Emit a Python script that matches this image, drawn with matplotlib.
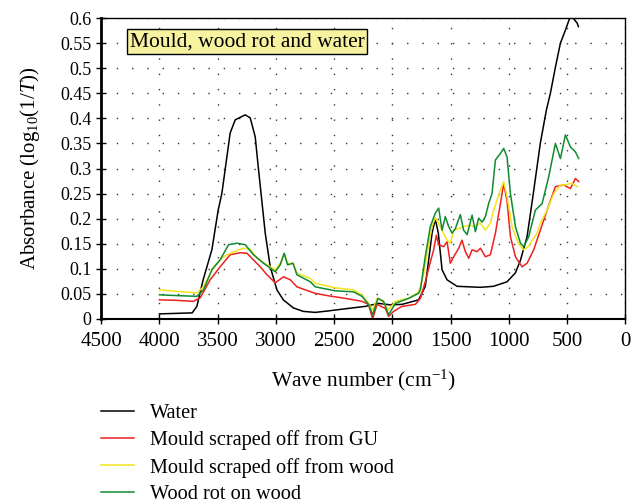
import numpy as np
import matplotlib
matplotlib.use("Agg")
import matplotlib.pyplot as plt

plt.rcParams['font.family'] = ['Liberation Serif', 'DejaVu Serif']
plt.rcParams['mathtext.fontset'] = 'custom'
plt.rcParams['mathtext.rm'] = 'Liberation Serif'
plt.rcParams['mathtext.it'] = 'Liberation Serif:italic'

# water
wn_water = [4000, 3718, 3678, 3624, 3549, 3495, 3463, 3392, 3349, 3263, 3220, 3177, 3151, 3091, 3048,
            2991, 2936, 2850, 2765, 2662, 2547, 2375, 2232, 2118, 2017, 1917, 1774, 1717, 1691, 1659,
            1631, 1605, 1573, 1530, 1444, 1244, 1132, 1015, 943, 900, 843, 789, 729, 677, 643,
            600, 557, 514, 488, 471, 445, 413, 402]
abs_water = [0.010, 0.012, 0.025, 0.078, 0.138, 0.217, 0.251, 0.371, 0.397, 0.407, 0.401, 0.363, 0.303, 0.171, 0.104,
             0.058, 0.038, 0.022, 0.015, 0.013, 0.016, 0.021, 0.025, 0.031, 0.028, 0.029, 0.038, 0.065, 0.112, 0.171,
             0.199, 0.171, 0.098, 0.078, 0.065, 0.063, 0.065, 0.074, 0.092, 0.117, 0.164, 0.251, 0.351, 0.417, 0.450,
             0.502, 0.550, 0.576, 0.593, 0.603, 0.599, 0.590, 0.583]

# mould scraped off from GU
wn_gu = [4000, 3850, 3710, 3649, 3564, 3478, 3392, 3306, 3248, 3194, 3134, 3076, 3005, 2934, 2876,
         2819, 2748, 2662, 2547, 2404, 2260, 2204, 2169, 2131, 2060, 2032, 1989, 1917, 1802, 1759,
         1717, 1688, 1645, 1622, 1602, 1559, 1530, 1502, 1473, 1430, 1402, 1373, 1344, 1315, 1273,
         1244, 1201, 1158, 1115, 1072, 1044, 1015, 986, 943, 915, 886, 843, 786, 729, 671,
         600, 528, 471, 428, 400]
abs_gu = [0.038, 0.037, 0.035, 0.042, 0.078, 0.104, 0.128, 0.132, 0.131, 0.118, 0.104, 0.088, 0.072, 0.084, 0.078,
          0.064, 0.058, 0.051, 0.046, 0.041, 0.035, 0.029, 0.000, 0.029, 0.021, 0.005, 0.015, 0.025, 0.029, 0.041,
          0.074, 0.101, 0.138, 0.167, 0.148, 0.144, 0.154, 0.111, 0.124, 0.141, 0.157, 0.134, 0.121, 0.138, 0.134,
          0.141, 0.124, 0.128, 0.171, 0.230, 0.270, 0.235, 0.164, 0.124, 0.114, 0.104, 0.111, 0.138, 0.177, 0.217,
          0.264, 0.267, 0.260, 0.280, 0.274]

# mould scraped off from wood
wn_wood = [4000, 3793, 3678, 3621, 3535, 3449, 3363, 3278, 3220, 3162, 3076, 3005, 2962, 2928, 2891,
           2853, 2819, 2704, 2662, 2490, 2333, 2260, 2204, 2169, 2131, 2083, 2032, 1974, 1860, 1774,
           1731, 1702, 1659, 1631, 1588, 1530, 1502, 1473, 1416, 1388, 1330, 1302, 1244, 1201, 1158,
           1130, 1101, 1072, 1044, 1015, 972, 915, 872, 829, 800, 757, 729, 671, 614, 557,
           528, 471, 457, 413]
abs_wood = [0.058, 0.054, 0.052, 0.064, 0.104, 0.124, 0.134, 0.141, 0.139, 0.121, 0.108, 0.098, 0.111, 0.130, 0.108,
            0.112, 0.091, 0.081, 0.071, 0.062, 0.058, 0.048, 0.031, 0.018, 0.041, 0.035, 0.018, 0.035, 0.041, 0.054,
            0.088, 0.131, 0.184, 0.202, 0.184, 0.157, 0.151, 0.177, 0.181, 0.184, 0.187, 0.184, 0.191, 0.177, 0.191,
            0.217, 0.237, 0.257, 0.274, 0.244, 0.184, 0.149, 0.138, 0.145, 0.157, 0.171, 0.191, 0.217, 0.250, 0.267,
            0.267, 0.270, 0.270, 0.264]

# wood rot on wood
wn_rot = [4000, 3793, 3678, 3621, 3549, 3478, 3406, 3334, 3263, 3192, 3106, 3005, 2962, 2928, 2900,
          2853, 2819, 2704, 2662, 2490, 2333, 2260, 2204, 2169, 2123, 2075, 2032, 1974, 1860, 1774,
          1759, 1717, 1674, 1631, 1602, 1573, 1545, 1516, 1487, 1459, 1416, 1388, 1358, 1315, 1287,
          1259, 1229, 1201, 1173, 1144, 1115, 1072, 1044, 1015, 986, 943, 900, 872, 829, 772,
          714, 657, 600, 557, 514, 471, 428, 400]
abs_rot = [0.048, 0.046, 0.045, 0.058, 0.098, 0.118, 0.148, 0.151, 0.148, 0.128, 0.111, 0.094, 0.108, 0.131, 0.108,
           0.111, 0.088, 0.074, 0.064, 0.056, 0.054, 0.045, 0.029, 0.008, 0.041, 0.035, 0.008, 0.031, 0.041, 0.051,
           0.058, 0.124, 0.184, 0.211, 0.221, 0.177, 0.204, 0.184, 0.171, 0.180, 0.208, 0.177, 0.168, 0.207, 0.174,
           0.201, 0.193, 0.204, 0.230, 0.250, 0.317, 0.330, 0.340, 0.323, 0.250, 0.184, 0.151, 0.144, 0.164, 0.217,
           0.230, 0.284, 0.350, 0.320, 0.367, 0.343, 0.333, 0.320]

x_ticks = [4500, 4000, 3500, 3000, 2500, 2000, 1500, 1000, 500, 0]
y_ticks = [0, 0.05, 0.1, 0.15, 0.2, 0.25, 0.3, 0.35, 0.4, 0.45, 0.5, 0.55, 0.6]
y_labels = ['0', '0.05', '0.1', '0.15', '0.2', '0.25', '0.3', '0.35', '0.4', '0.45', '0.5', '0.55', '0.6']

fig = plt.figure(figsize=(6.4, 5.03), dpi=100)
ax = fig.add_axes([0.158, 0.366, 0.819, 0.598])

ax.plot(wn_water, abs_water, color='black', lw=1.1, label='Water')
ax.plot(wn_gu, abs_gu, color='#ee2020', lw=1.1, label='Mould scraped off from GU')
ax.plot(wn_wood, abs_wood, color='#f2e41c', lw=1.1, label='Mould scraped off from wood')
ax.plot(wn_rot, abs_rot, color='#108a30', lw=1.1, label='Wood rot on wood')

ax.set_xlim(4500, 0)
ax.set_ylim(0, 0.6)
ax.set_xticks(x_ticks)
ax.set_xticklabels([str(t) for t in x_ticks], fontsize=15)
ax.set_yticks(y_ticks)
ax.set_yticklabels(y_labels, fontsize=13)
ax.tick_params(direction='inout', length=7, width=1)
ax.tick_params(axis='x', pad=6)
ax.grid(True, color='#333333', linestyle=(0, (1, 10)), linewidth=1)

ax.spines['left'].set_linewidth(2)
ax.spines['bottom'].set_linewidth(1.5)
ax.spines['top'].set_linewidth(1)
ax.spines['right'].set_linewidth(1)

ax.set_xlabel(r'Wave number (cm$^{-1}$)', fontsize=15.5, labelpad=12)
ax.set_ylabel(r'Absorbance (log$_{10}$(1/$T$))', fontsize=15, labelpad=13)

ax.text(0.055, 0.922, 'Mould, wood rot and water', transform=ax.transAxes, fontsize=15.5,
        ha='left', va='center',
        bbox=dict(boxstyle='square,pad=0.12', facecolor='#f6f2a0', edgecolor='black', linewidth=1))

fig.legend(loc='upper left', bbox_to_anchor=(0.145, 0.213), frameon=False, fontsize=14.6,
           handlelength=1.65, handletextpad=0.78, labelspacing=0.36, borderaxespad=0)

fig.savefig('out.png', dpi=100)
